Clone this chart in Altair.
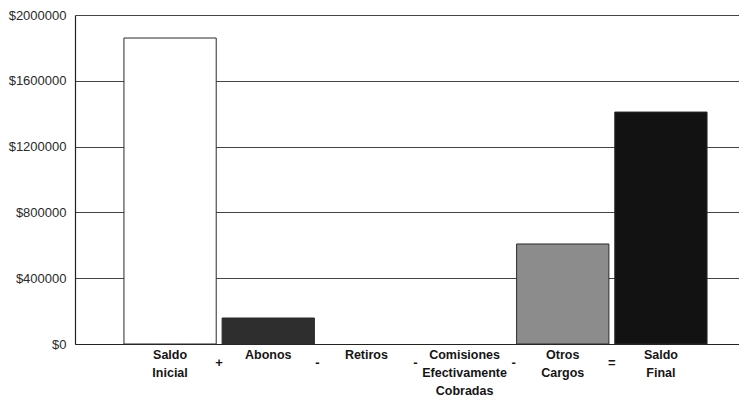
import altair as alt
import pandas as pd

categories = ["Saldo Inicial", "Abonos", "Retiros", "Comisiones Efectivamente Cobradas", "Otros Cargos", "Saldo Final"]
values = [1860000, 158000, 0, 0, 608000, 1410000]
bar_colors = ["#ffffff", "#2e2e2e", "#555555", "#555555", "#8c8c8c", "#121212"]
operators = ["+", "-", "-", "-", "="]
y_ticks = [0, 400000, 800000, 1200000, 1600000, 2000000]

df = pd.DataFrame({"cat": categories, "val": values})
ops = pd.DataFrame({"cat": categories[:-1], "op": operators})

FONT = "Liberation Sans"
W, H = 664, 329
n = len(categories)
pin, pout = 0.06, 0.412
step = W / (n - pin + 2 * pout)

xscale = alt.Scale(domain=categories, paddingInner=pin, paddingOuter=pout, align=0.605)

bars = alt.Chart(df).transform_filter("datum.val > 0").mark_bar(stroke="#2a2a2a", strokeWidth=1).encode(
    x=alt.X("cat:N", sort=categories, scale=xscale,
            axis=alt.Axis(title=None, labelAngle=0, labelExpr="split(datum.label, ' ')",
                          labelFont=FONT, labelFontSize=12.5, labelFontWeight="bold",
                          labelColor="#151515", labelLineHeight=18, labelPadding=4,
                          ticks=False, domainColor="#222", domainWidth=1.2, grid=False,
                          labelBaseline="top")),
    y=alt.Y("val:Q", scale=alt.Scale(domain=[0, 2000000], nice=False),
            axis=alt.Axis(title=None, values=y_ticks, labelExpr="'$' + datum.value",
                          labelFont=FONT, labelFontSize=13, labelColor="#2a2a2a",
                          labelPadding=9, ticks=False, domainColor="#222", domainWidth=1.2,
                          grid=True, gridColor="#444", gridWidth=1)),
    color=alt.Color("cat:N", scale=alt.Scale(domain=categories, range=bar_colors), legend=None),
)

op_text = alt.Chart(ops).mark_text(
    font=FONT, fontSize=13, fontWeight="bold", color="#151515", xOffset=step / 2, baseline="middle"
).encode(
    x=alt.X("cat:N", sort=categories, scale=xscale),
    y=alt.value(H + 19),
    text="op:N",
)

chart = alt.layer(bars, op_text).properties(
    width=W, height=H,
    autosize=alt.AutoSizeParams(type="none"),
    padding={"left": 67, "top": 7, "right": 0, "bottom": 60},
    background="white",
).configure_view(stroke=None)

chart.save("out.html", embed_options={"renderer": "svg", "actions": False})
